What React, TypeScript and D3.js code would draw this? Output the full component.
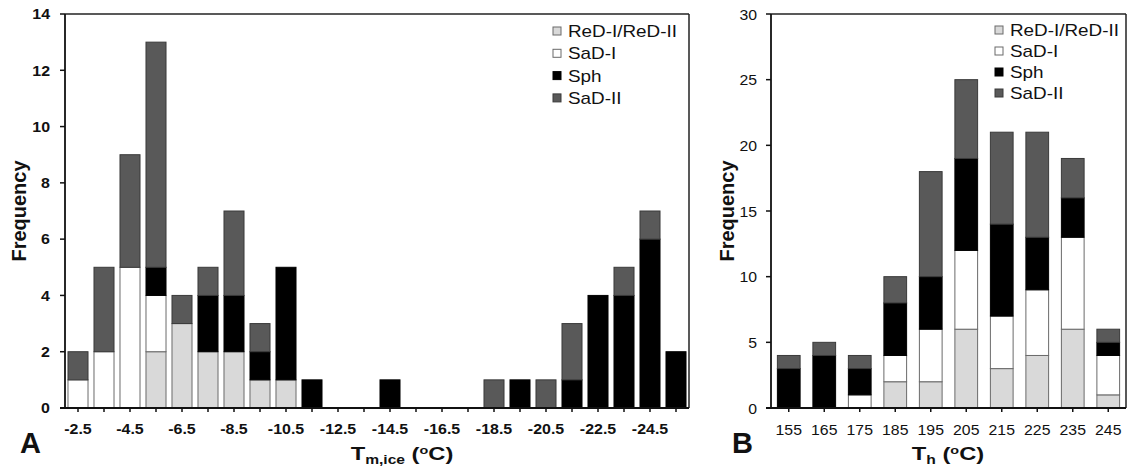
import React from "react";
import * as d3 from "d3";

// ---------- data ----------
const leftCategories = [
  "-2.5", "-3.5", "-4.5", "-5.5", "-6.5", "-7.5", "-8.5", "-9.5", "-10.5", "-11.5", "-12.5", "-13.5",
  "-14.5", "-15.5", "-16.5", "-17.5", "-18.5", "-19.5", "-20.5", "-21.5", "-22.5", "-23.5", "-24.5", "-25.5",
];
const leftTickLabels = ["-2.5", "-4.5", "-6.5", "-8.5", "-10.5", "-12.5", "-14.5", "-16.5", "-18.5", "-20.5", "-22.5", "-24.5"];
const leftReD = [0, 0, 0, 2, 3, 2, 2, 1, 1, 0, 0, 0, 0, 0, 0, 0, 0, 0, 0, 0, 0, 0, 0, 0];
const leftSaDI = [1, 2, 5, 2, 0, 0, 0, 0, 0, 0, 0, 0, 0, 0, 0, 0, 0, 0, 0, 0, 0, 0, 0, 0];
const leftSph = [0, 0, 0, 1, 0, 2, 2, 1, 4, 1, 0, 0, 1, 0, 0, 0, 0, 1, 0, 1, 4, 4, 6, 2];
const leftSaDII = [1, 3, 4, 8, 1, 1, 3, 1, 0, 0, 0, 0, 0, 0, 0, 0, 1, 0, 1, 2, 0, 1, 1, 0];
const leftYTicks = [0, 2, 4, 6, 8, 10, 12, 14];

const rightCategories = ["155", "165", "175", "185", "195", "205", "215", "225", "235", "245"];
const rightReD = [0, 0, 0, 2, 2, 6, 3, 4, 6, 1];
const rightSaDI = [0, 0, 1, 2, 4, 6, 4, 5, 7, 3];
const rightSph = [3, 4, 2, 4, 4, 7, 7, 4, 3, 1];
const rightSaDII = [1, 1, 1, 2, 8, 6, 7, 8, 3, 1];
const rightYTicks = [0, 5, 10, 15, 20, 25, 30];

const seriesNames = ["ReD-I/ReD-II", "SaD-I", "Sph", "SaD-II"];
const seriesKeys = ["red", "sadi", "sph", "sadii"];
const seriesFill = ["#d9d9d9", "#ffffff", "#000000", "#595959"];
const seriesStroke = ["#6a6a6a", "#6a6a6a", "#000000", "#3a3a3a"];

const FONT = "'Liberation Sans', Arial, Helvetica, sans-serif";

type PanelProps = {
  cats: string[];
  tickLabels: string[];
  series: number[][];
  yTicks: number[];
  x0: number;
  x1: number;
  y0: number;
  y1: number;
  padding: number;
  tickBold: boolean;
  tickSize: number;
  tickSx: number;
  xLabelY: number;
  yLabelX: number;
  legendX: number;
  legendY: number;
  legendStep: number;
  yTitleX: number;
  titleX: number;
  titleSub: string;
  letter: string;
  letterX: number;
};

function SText(props: {
  x: number;
  y: number;
  sx?: number;
  size: number;
  bold?: boolean;
  anchor?: string;
  children: React.ReactNode;
}) {
  const { x, y, sx = 1, size, bold, anchor = "start", children } = props;
  return (
    <text
      transform={`translate(${x},${y}) scale(${sx},1)`}
      fontSize={size}
      fontWeight={bold ? "bold" : "normal"}
      textAnchor={anchor}
      fontFamily={FONT}
      fill="#111"
    >
      {children}
    </text>
  );
}

function Panel(p: PanelProps) {
  const x = d3.scaleBand<string>().domain(p.cats).range([p.x0, p.x1]).paddingInner(p.padding).paddingOuter(p.padding / 2);
  const y = d3.scaleLinear().domain([0, p.yTicks[p.yTicks.length - 1]]).range([p.y1, p.y0]);
  const table = p.cats.map((c, i) => {
    const row: any = { cat: c };
    seriesKeys.forEach((k, j) => (row[k] = p.series[j][i]));
    return row;
  });
  const stacked = d3.stack<any>().keys(seriesKeys)(table);
  const bw = x.bandwidth();
  return (
    <g>
      {stacked.map((layer, j) => (
        <g key={seriesKeys[j]}>
          {layer.map((d, i) => {
            const h = y(d[0]) - y(d[1]);
            if (h <= 0) return null;
            return (
              <rect
                key={i}
                x={x(p.cats[i])!}
                y={y(d[1])}
                width={bw}
                height={h}
                fill={seriesFill[j]}
                stroke={seriesStroke[j]}
                strokeWidth={1}
              />
            );
          })}
        </g>
      ))}
      {/* frame */}
      <line x1={p.x0} x2={p.x1} y1={p.y0} y2={p.y0} stroke="#222" strokeWidth={1.5} />
      <line x1={p.x1} x2={p.x1} y1={p.y0} y2={p.y1} stroke="#222" strokeWidth={1.5} />
      <line x1={p.x0} x2={p.x0} y1={p.y0} y2={p.y1} stroke="#111" strokeWidth={1.8} />
      <line x1={p.x0 - 5} x2={p.x1} y1={p.y1} y2={p.y1} stroke="#111" strokeWidth={1.8} />
      {/* y ticks */}
      {p.yTicks.map((t) => (
        <g key={t}>
          <line x1={p.x0 - 5} x2={p.x0} y1={y(t)} y2={y(t)} stroke="#111" strokeWidth={1.5} />
          <SText x={p.yLabelX} y={y(t) + p.tickSize * 0.36} size={p.tickSize} bold={p.tickBold} anchor="end" sx={p.tickSx}>
            {t}
          </SText>
        </g>
      ))}
      {/* x ticks */}
      {p.cats.map((c) => (
        <line key={c} x1={x(c)! + bw / 2} x2={x(c)! + bw / 2} y1={p.y1} y2={p.y1 + 4} stroke="#111" strokeWidth={1.5} />
      ))}
      {p.tickLabels.map((c) => (
        <SText key={c} x={x(c)! + bw / 2} y={p.xLabelY} size={p.tickSize} bold={p.tickBold} anchor="middle" sx={p.tickSx}>
          {c}
        </SText>
      ))}
      {/* legend */}
      {seriesNames.map((n, j) => (
        <g key={n}>
          <rect
            x={p.legendX}
            y={p.legendY + j * p.legendStep - 4}
            width={8}
            height={8}
            fill={seriesFill[j]}
            stroke={seriesStroke[j]}
            strokeWidth={1}
          />
          <SText x={p.legendX + 15} y={p.legendY + j * p.legendStep + 6} size={16} sx={1.18}>
            {n}
          </SText>
        </g>
      ))}
      {/* y title */}
      <text
        transform={`translate(${p.yTitleX},${(p.y0 + p.y1) / 2}) rotate(-90)`}
        fontSize={20}
        fontWeight="bold"
        textAnchor="middle"
        fontFamily={FONT}
        fill="#111"
      >
        Frequency
      </text>
      {/* x title */}
      <text
        transform={`translate(${p.titleX},460) scale(1.25,1)`}
        fontSize={19}
        fontWeight="bold"
        textAnchor="middle"
        fontFamily={FONT}
        fill="#111"
      >
        T
        <tspan fontSize={12.5} dy={4}>
          {p.titleSub}
        </tspan>
        <tspan dy={-4}> (</tspan>
        <tspan fontSize={11.5} dy={-6}>
          o
        </tspan>
        <tspan dy={6}>C)</tspan>
      </text>
      {/* panel letter */}
      <SText x={p.letterX} y={453} size={29} bold>
        {p.letter}
      </SText>
    </g>
  );
}

export default function App() {
  return (
    <svg
      width={1132}
      height={473}
      style={{ position: "absolute", left: 0, top: 0, background: "#fff" }}
    >
      <rect width={1132} height={473} fill="#fff" />
      <Panel
        cats={leftCategories}
        tickLabels={leftTickLabels}
        series={[leftReD, leftSaDI, leftSph, leftSaDII]}
        yTicks={leftYTicks}
        x0={65}
        x1={689}
        y0={14}
        y1={408}
        padding={0.23}
        tickBold={true}
        tickSize={14.5}
        tickSx={1.1}
        xLabelY={434}
        yLabelX={50}
        legendX={553}
        legendY={31}
        legendStep={22.3}
        yTitleX={26}
        titleX={402}
        titleSub="m,ice"
        letter="A"
        letterX={20}
      />
      <Panel
        cats={rightCategories}
        tickLabels={rightCategories}
        series={[rightReD, rightSaDI, rightSph, rightSaDII]}
        yTicks={rightYTicks}
        x0={771}
        x1={1126}
        y0={14}
        y1={408}
        padding={0.36}
        tickBold={false}
        tickSize={15.5}
        tickSx={1.02}
        xLabelY={435}
        yLabelX={757}
        legendX={995}
        legendY={30}
        legendStep={21}
        yTitleX={734}
        titleX={948}
        titleSub="h"
        letter="B"
        letterX={732}
      />
    </svg>
  );
}
